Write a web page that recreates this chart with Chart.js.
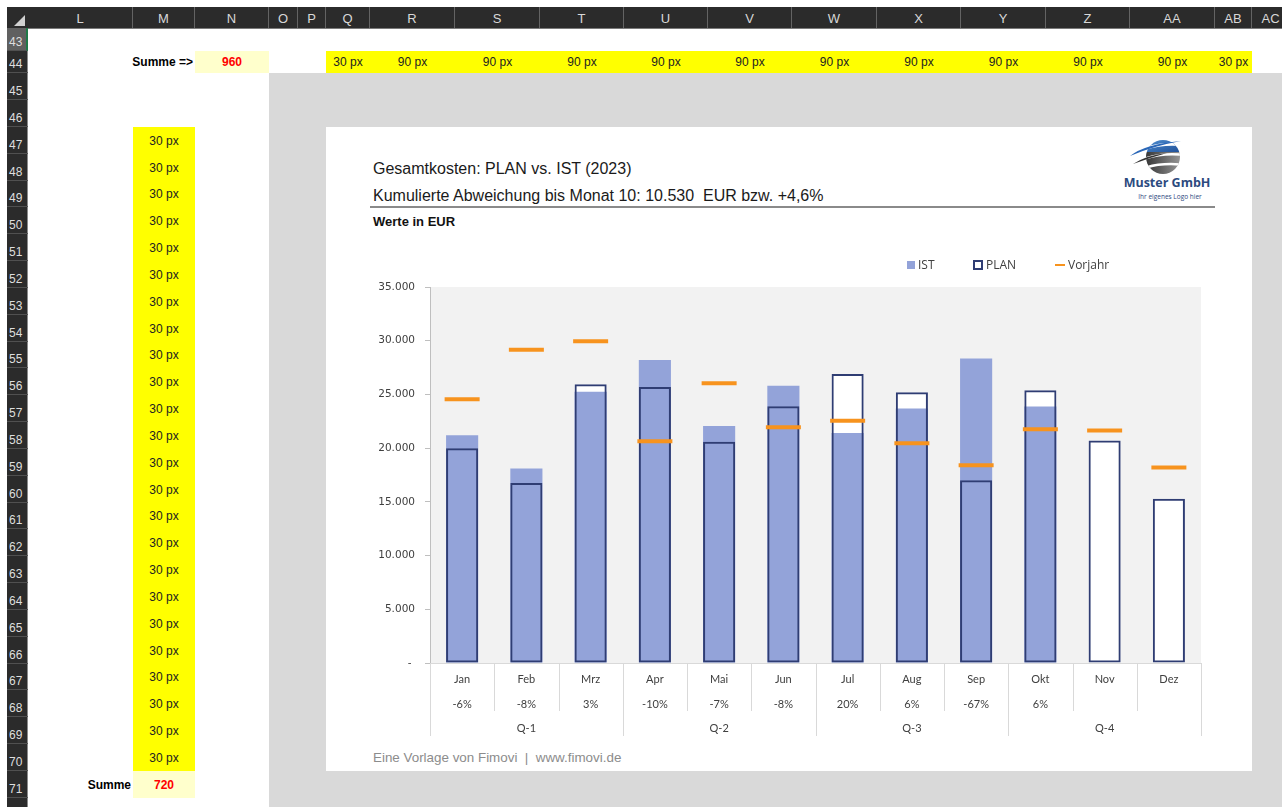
<!DOCTYPE html>
<html lang="de">
<head>
<meta charset="utf-8">
<title>Gesamtkosten: PLAN vs. IST (2023)</title>
<script src="https://cdn.jsdelivr.net/npm/chart.js@4.4.1/dist/chart.umd.min.js"></script>
<style>
  html, body { margin: 0; padding: 0; background: #fff; }
  body { width: 1282px; height: 807px; position: relative; overflow: hidden;
         font-family: "Liberation Sans", Arial, sans-serif; }
  .abs { position: absolute; box-sizing: border-box; }
  #colhead { left: 7px; top: 7px; width: 1275px; height: 22px; background: #2b2b2b; border-bottom: 1px solid #7a7a7a; }
  .ch { position: absolute; top: 7px; height: 21px; color: #d8d8d8; font-size: 13px; line-height: 23px;
        text-align: center; border-right: 1px solid #636363; box-sizing: border-box; }
  #rowhead { left: 7px; top: 28px; width: 21px; height: 779px; background: #2b2b2b; border-right: 1px solid #8a8a8a; }
  .rh { position: absolute; left: 7px; width: 20px; color: #dedede; font-size: 12px; box-sizing: border-box;
        border-bottom: 1px solid #505050; display: flex; align-items: flex-end; padding: 0 0 1px 2px; }
  .rh.sel { background: #606060; border-right: 2px solid #1f7a48; }
  .cell { position: absolute; display: flex; align-items: center; justify-content: center;
          font-size: 12px; color: #222; box-sizing: border-box; white-space: nowrap; }
  .yel { background: #ffff00; }
  .lyel { background: #ffffcc; }
  .sum { font-weight: bold; color: #ff0000; }
  .lbl { font-weight: bold; color: #000; justify-content: flex-end; padding-right: 2px; overflow: visible; }
  #sheetGray { left: 269px; top: 73px; width: 1013px; height: 734px; background: #d9d9d9; }
  #box { left: 326px; top: 127px; width: 926px; height: 644px; background: #fff; }
  .title { position: absolute; left: 373px; font-size: 16px; line-height: 18px; color: #1a1a1a; white-space: pre; }
  #rule { left: 370px; top: 206px; width: 845px; height: 2px; background: #8a8a8a; }
  #unit { position: absolute; left: 373px; top: 214px; font-size: 13px; line-height: 16px; font-weight: bold; color: #111; }
  #footer { position: absolute; left: 373px; top: 750px; font-size: 13.4px; line-height: 16px; color: #8c8c8c; white-space: pre; }
  #logoName { position: absolute; left: 1107px; width: 120px; top: 175px; text-align: center;
              font-family: "Open Sans", sans-serif; font-weight: bold; font-size: 12.5px; line-height: 16px; color: #2c4a7e; }
  #logoSub { position: absolute; left: 1110px; width: 120px; top: 193px; text-align: center;
             font-family: "Open Sans", sans-serif; font-size: 6.5px; line-height: 8px; color: #2c4a7e; }
  .lg { position: absolute; font-family: "Open Sans", sans-serif; font-size: 12px; line-height: 16px; color: #404040; }
  #chart { position: absolute; left: 326px; top: 240px; }
</style>
</head>
<body>

<div id="sheetGray" class="abs"></div>
<div id="box" class="abs"></div>

<div id="colhead" class="abs"></div>
<div id="rowhead" class="abs"></div>
<svg class="abs" style="left:7px;top:7px" width="21" height="21">
  <polygon points="18,8 18,19 7,19" fill="#d0d0d0"/>
</svg>

<div class="title" style="top:160px">Gesamtkosten: PLAN vs. IST (2023)</div>
<div class="title" id="subtitle" style="top:187px"></div>
<div id="rule" class="abs"></div>
<div id="unit">Werte in EUR</div>

<svg class="abs" style="left:1127px;top:135px" width="62" height="42" viewBox="0 0 62 42">
  <defs>
    <linearGradient id="lgB" x1="0" y1="0" x2="1" y2="1">
      <stop offset="0" stop-color="#5fa4e4"/><stop offset="1" stop-color="#1b4a93"/>
    </linearGradient>
    <linearGradient id="lgK" x1="0" y1="0" x2="1" y2="0">
      <stop offset="0" stop-color="#1e1e1e"/><stop offset="1" stop-color="#a8a8a8"/>
    </linearGradient>
    <clipPath id="ball"><circle cx="36" cy="22" r="17"/></clipPath>
  </defs>
  <g clip-path="url(#ball)">
    <rect x="10" y="0" width="50" height="17" fill="url(#lgB)"/>
    <rect x="10" y="17" width="50" height="30" fill="url(#lgK)"/>
    <path d="M14 15 Q34 7 58 10" stroke="#fff" stroke-width="3" fill="none"/>
    <path d="M14 25 Q34 17 58 20" stroke="#fff" stroke-width="2.5" fill="none"/>
    <path d="M14 34 Q34 27 58 30" stroke="#fff" stroke-width="2.5" fill="none"/>
  </g>
  <path d="M3 21 Q18 9 54 6 Q26 11 3 21Z" fill="#2a67b8"/>
  <path d="M6 29 Q20 20 40 18 Q22 23 6 29Z" fill="#333"/>
</svg>
<div id="logoName">Muster GmbH</div>
<div id="logoSub">Ihr eigenes Logo hier</div>

<canvas id="chart" width="927" height="505"></canvas>

<div id="footer">Eine Vorlage von Fimovi  |  www.fimovi.de</div>

<script>
// ---- chart data ----
const months   = ['Jan', 'Feb', 'Mrz', 'Apr', 'Mai', 'Jun', 'Jul', 'Aug', 'Sep', 'Okt', 'Nov', 'Dez'];
const quarters = ['Q-1', 'Q-2', 'Q-3', 'Q-4'];
const plan     = [20000, 16750, 25950, 25700, 20600, 23900, 26900, 25200, 17000, 25400, 20700, 15300];
const ist      = [21200, 18100, 25250, 28200, 22050, 25800, 21400, 23700, 28350, 23880];
const vorjahr  = [24550, 29150, 29950, 20650, 26050, 21950, 22550, 20450, 18400, 21750, 21650, 18200];
const yMax  = 35000;
const yStep = 5000;

// ---- worksheet helper cells ----
const colLetters = ['L', 'M', 'N', 'O', 'P', 'Q', 'R', 'S', 'T', 'U', 'V', 'W', 'X', 'Y', 'Z', 'AA', 'AB', 'AC'];
const colEdges   = [28, 133, 195, 269, 298, 326, 370, 455, 540, 624, 708, 792, 877, 961, 1046, 1130, 1215, 1252, 1290];
const rowNumbers = [43, 44, 45, 46, 47, 48, 49, 50, 51, 52, 53, 54, 55, 56, 57, 58, 59, 60, 61, 62, 63, 64, 65, 66, 67, 68, 69, 70, 71, 72];
const rowEdges = [28, 51, 73, 100, 127];
for (let i = 1; i <= 26; i++) rowEdges.push(Math.round(127 + i * 26.83));
const widthLabels = ['30 px', '90 px', '90 px', '90 px', '90 px', '90 px', '90 px', '90 px', '90 px', '90 px', '90 px', '30 px'];
const widthSum  = 960;
const heightSum = 720;

function fmtDE(n) {
  return String(Math.round(n)).replace(/\B(?=(\d{3})+(?!\d))/g, '.');
}
function el(cls, x0, y0, x1, y1, text) {
  const d = document.createElement('div');
  d.className = cls;
  d.style.left = x0 + 'px'; d.style.top = y0 + 'px';
  d.style.width = (x1 - x0) + 'px'; d.style.height = (y1 - y0) + 'px';
  if (text !== undefined) d.textContent = text;
  document.body.appendChild(d);
  return d;
}

// column header letters
colLetters.forEach((c, i) => el('ch', colEdges[i], 7, colEdges[i + 1], 28, c));
// row header numbers
rowNumbers.forEach((r, i) => el('rh' + (r === 43 ? ' sel' : ''), 7, rowEdges[i], 28, rowEdges[i + 1], String(r)));

// row 44: width markers
el('cell lbl', colEdges[1] - 20, rowEdges[1], colEdges[2], rowEdges[2], 'Summe =>');
el('cell lyel sum', colEdges[2], rowEdges[1], colEdges[3], rowEdges[2], String(widthSum));
widthLabels.forEach((t, i) => el('cell yel', colEdges[5 + i], rowEdges[1], colEdges[6 + i], rowEdges[2], t));
// column M: height markers
for (let i = 4; i < 28; i++) el('cell yel', colEdges[1], rowEdges[i], colEdges[2], rowEdges[i + 1], '30 px');
el('cell lbl', colEdges[0], rowEdges[28], colEdges[1], rowEdges[29], 'Summe');
el('cell lyel sum', colEdges[1], rowEdges[28], colEdges[2], rowEdges[29], String(heightSum));

// ---- derived texts ----
const done = ist.length;
const sumPlan = plan.slice(0, done).reduce((a, b) => a + b, 0);
const sumIst  = ist.reduce((a, b) => a + b, 0);
const dev = sumIst - sumPlan;
const devPct = (dev / sumPlan * 100).toFixed(1).replace('.', ',');
document.getElementById('subtitle').textContent =
  'Kumulierte Abweichung bis Monat ' + done + ': ' + fmtDE(dev) + '  EUR bzw. ' + (dev >= 0 ? '+' : '') + devPct + '%';

const deviation = months.map((m, i) => i < ist.length ? Math.round((plan[i] - ist[i]) / plan[i] * 100) + '%' : '');
const labels = months.map((m, i) => [m, deviation[i]]);

// ---- colours ----
const cIst = '#93a3d9';
const cPlan = '#2f3d73';
const cVorjahr = '#f7931e';

// ---- legend ----
const legendItems = [
  { label: 'IST',     swatch: { left: 907, top: 261, width: 8, height: 8, background: cIst } },
  { label: 'PLAN',    swatch: { left: 973, top: 260, width: 10, height: 10, border: '2px solid ' + cPlan, background: '#fff' } },
  { label: 'Vorjahr', swatch: { left: 1055, top: 264, width: 10, height: 2, background: cVorjahr } }
];
legendItems.forEach(it => {
  const s = document.createElement('div');
  s.className = 'abs';
  Object.entries(it.swatch).forEach(([k, v]) => s.style[k] = typeof v === 'number' ? v + 'px' : v);
  document.body.appendChild(s);
  const t = document.createElement('div');
  t.className = 'lg';
  t.style.left = (it.swatch.left + it.swatch.width + 3) + 'px';
  t.style.top = '257px';
  t.textContent = it.label;
  document.body.appendChild(t);
});

// ---- plugins ----
const plotBackground = {
  id: 'plotBackground',
  beforeDraw(chart) {
    const { ctx, chartArea: a } = chart;
    ctx.save();
    ctx.fillStyle = '#f2f2f2';
    ctx.fillRect(a.left, a.top, a.right - a.left, a.bottom - a.top);
    ctx.restore();
  }
};

const categoryTable = {
  id: 'categoryTable',
  afterDraw(chart) {
    const { ctx, chartArea: a, scales: { x } } = chart;
    const n = months.length;
    const edge = i => i === 0 ? a.left : i === n ? a.right : (x.getPixelForValue(i - 1) + x.getPixelForValue(i)) / 2;
    ctx.save();
    ctx.strokeStyle = '#d9d9d9';
    ctx.lineWidth = 1;
    for (let i = 0; i <= n; i++) {
      const px = Math.round(edge(i)) + 0.5;
      const len = i % 3 === 0 ? 73 : 48;
      ctx.beginPath();
      ctx.moveTo(px, a.bottom);
      ctx.lineTo(px, a.bottom + len);
      ctx.stroke();
    }
    ctx.fillStyle = '#404040';
    ctx.font = '11px Lato, "Open Sans", sans-serif';
    ctx.textAlign = 'center';
    ctx.textBaseline = 'middle';
    quarters.forEach((q, k) => {
      const cx = (edge(3 * k) + edge(3 * k + 3)) / 2;
      ctx.fillText(q, cx, a.bottom + 65);
    });
    ctx.restore();
  }
};

// ---- chart ----
new Chart(document.getElementById('chart'), {
  type: 'bar',
  data: {
    labels: labels,
    datasets: [
      { label: 'Vorjahr', type: 'line', data: vorjahr, showLine: false,
        pointStyle: 'line', pointRadius: 17.5, pointHoverRadius: 17.5,
        pointBorderWidth: 4, pointHoverBorderWidth: 4,
        borderColor: cVorjahr, pointBorderColor: cVorjahr, backgroundColor: cVorjahr, order: 0 },
      { label: 'PLAN', data: plan, backgroundColor: 'rgba(0,0,0,0)', borderColor: cPlan,
        borderWidth: 2, borderSkipped: false, order: 1 },
      { label: 'IST', data: ist, backgroundColor: cIst, borderWidth: 0, order: 2 },
      { label: 'PLAN', data: plan, backgroundColor: '#ffffff', borderWidth: 0, order: 3 }
    ]
  },
  options: {
    responsive: false,
    animation: false,
    events: [],
    layout: { padding: { left: 0, right: 52, top: 47, bottom: 0 } },
    datasets: { bar: { categoryPercentage: 1, barPercentage: 0.5 } },
    plugins: { legend: { display: false }, tooltip: { enabled: false } },
    scales: {
      x: {
        stacked: true,
        grid: { display: false, drawTicks: false },
        border: { display: true, color: '#d9d9d9' },
        ticks: { autoSkip: false, maxRotation: 0, padding: 4, color: '#404040',
                 font: { family: 'Lato, "Open Sans", sans-serif', size: 11, lineHeight: '25px' } },
        afterFit(s) { s.height = 82; }
      },
      y: {
        min: 0, max: yMax,
        grid: { drawOnChartArea: false, drawTicks: true, tickLength: 5, color: '#bfbfbf' },
        border: { display: true, color: '#bfbfbf' },
        ticks: { stepSize: yStep, padding: 10, color: '#404040',
                 font: { family: '"DejaVu Sans", sans-serif', size: 10.5 },
                 callback: v => v === 0 ? '- ' : fmtDE(v) },
        afterFit(s) { s.width = 104; }
      }
    }
  },
  plugins: [plotBackground, categoryTable]
});
</script>
</body>
</html>
